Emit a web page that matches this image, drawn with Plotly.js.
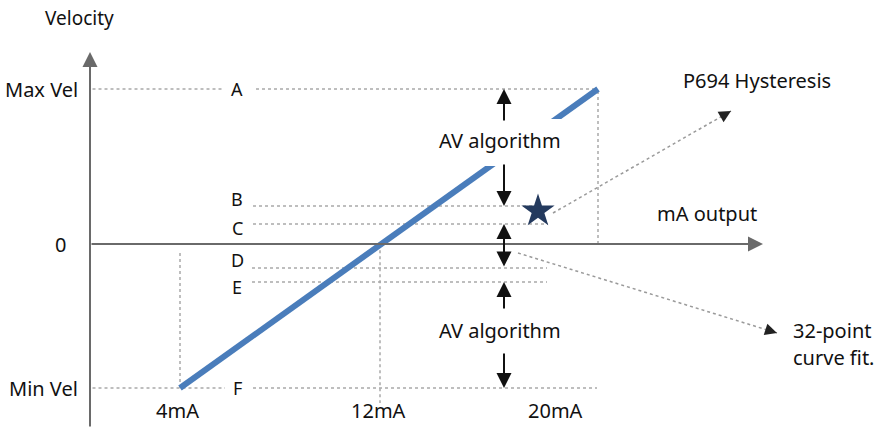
<!DOCTYPE html>
<html>
<head>
<meta charset="utf-8">
<script src="https://cdn.plot.ly/plotly-3.0.1.min.js"></script>
<style>html,body{margin:0;padding:0;background:#fff;}#chart{width:876px;height:432px;}</style>
</head>
<body>
<div id="chart"></div>
<script>
// ---- data (x in mA, y in % of max velocity) ----
const tickValues = [4, 12, 20];
const tickLabels = ['4mA', '12mA', '20mA'];
const levelNames = ['A', 'B', 'C', 'D', 'E', 'F'];
const levelValues = [100, 24.5, 12.9, -15.5, -24.5, -92.9];
const curveX = [4, 20.72];
const curveV = [-92.9, 100];
const hystX = [18.32];
const hystV = [21.3];

const FONT = 'Noto Sans, Open Sans, sans-serif';
const TXT = '#111111';
const GUIDE = '#a9a9a9';
const AXIS = '#6a6a6a';
const FS = 20;

const maxV = levelValues[0], minV = levelValues[5];
const xAxisPos = 0.4;            // where the vertical (velocity) axis sits
const labelX = 6.28;             // column for letters A..F
const avX = 16.96;               // column for the AV-algorithm arrows
const endX = curveX[1];

function hline(y, x0, x1) {
  return {type: 'line', xref: 'x', yref: 'y', x0: x0, x1: x1, y0: y, y1: y,
          line: {color: GUIDE, width: 1.5, dash: 'dot'}, layer: 'below'};
}
function vline(x, y0, y1) {
  return {type: 'line', xref: 'x', yref: 'y', x0: x, x1: x, y0: y0, y1: y1,
          line: {color: GUIDE, width: 1.5, dash: 'dot'}, layer: 'below'};
}

const shapes = [
  hline(maxV, 0.5, 5.68),
  hline(levelValues[0], 7.04, endX),
  hline(levelValues[1], 6.92, 18.2),
  hline(levelValues[2], 6.92, 18.72),
  hline(levelValues[3], 6.88, 18.68),
  hline(levelValues[4], 6.88, 18.68),
  hline(minV, 0.5, 5.8),
  hline(levelValues[5], 6.92, 20.68),
  vline(tickValues[0], -5.8, minV),
  vline(tickValues[1], -4, -102.6),
  vline(endX, 0, maxV),
  // dotted leader lines
  {type: 'line', xref: 'x', yref: 'y', x0: 18.92, y0: 20, x1: 26.04, y1: 85.8,
   line: {color: '#9a9a9a', width: 1.5, dash: 'dot'}},
  {type: 'line', xref: 'x', yref: 'y', x0: 17.52, y0: -5.8, x1: 27.88, y1: -57.4,
   line: {color: '#9a9a9a', width: 1.5, dash: 'dot'}},
  // white mask behind the upper "AV algorithm" label
  {type: 'rect', xref: 'x', yref: 'y', x0: 16.0, x1: 19.4, y0: 50.3, y1: 80.6,
   fillcolor: '#ffffff', line: {width: 0}, layer: 'above'}
];

function arrow(xh, yh, xt, yt, extra) {
  return Object.assign({x: xh, y: yh, ax: xt, ay: yt, xref: 'x', yref: 'y', axref: 'x', ayref: 'y',
    text: '', showarrow: true, arrowhead: 2, arrowsize: 1.5, arrowwidth: 2, arrowcolor: '#111111',
    standoff: 0, startstandoff: 0}, extra || {});
}
function label(text, x, y, opts) {
  return Object.assign({x: x, y: y, xref: 'x', yref: 'y', text: text, showarrow: false,
    font: {family: FONT, size: FS, color: TXT}}, opts || {});
}

const letterShift = [0, 7, -4, 8, -5, 0];
const annotations = [
  // axes with arrowheads
  arrow(xAxisPos, 123.9, xAxisPos, -118.7, {arrowcolor: AXIS, arrowwidth: 2, arrowsize: 1.5}),
  arrow(27.32, 0, xAxisPos, 0, {arrowcolor: AXIS, arrowwidth: 2, arrowsize: 1.5}),
  // AV algorithm arrows
  arrow(avX, levelValues[0], avX, 78.7),
  arrow(avX, levelValues[1], avX, 52.3),
  arrow(avX, levelValues[2], avX, levelValues[3], {arrowside: 'end+start', startarrowhead: 2, startarrowsize: 1.5}),
  arrow(avX, levelValues[4], avX, -42.6),
  arrow(avX, levelValues[5], avX, -69.7),
  // leader arrowheads
  {x: 26.04, y: 85.8, xref: 'x', yref: 'y', ax: -8.7, ay: 5, text: '', showarrow: true,
   arrowhead: 2, arrowsize: 1.5, arrowwidth: 1.6, arrowcolor: '#222222', standoff: 0},
  {x: 27.88, y: -57.4, xref: 'x', yref: 'y', ax: -9.5, ay: -3, text: '', showarrow: true,
   arrowhead: 2, arrowsize: 1.5, arrowwidth: 1.6, arrowcolor: '#222222', standoff: 0},
  // texts
  label('AV algorithm', 16.8, 67.1),
  label('AV algorithm', 16.8, -55.5),
  label('P694 Hysteresis', 27.08, 105.8),
  label('mA output', 25.08, 20),
  label('32-point', 28.44, -55.5, {xanchor: 'left'}),
  label('curve fit.', 28.44, -73.5, {xanchor: 'left'}),
  label('Velocity', -0.04, 145.8, {font: {family: FONT, size: 19, color: TXT}}),
  label('Max Vel', 0, maxV, {xanchor: 'right'}),
  label('0', -0.48, 0, {xanchor: 'right'}),
  label('Min Vel', 0, minV, {xanchor: 'right'})
];
levelNames.forEach((n, i) => annotations.push(label(n, labelX, levelValues[i],
  {yshift: letterShift[i], font: {family: FONT, size: 18, color: TXT}})));
const tickShift = [-3, -2, -25];
tickLabels.forEach((t, i) => annotations.push(label(t, tickValues[i], -107.1, {xshift: tickShift[i]})));

const traces = [
  {x: curveX, y: curveV, type: 'scatter', mode: 'lines',
   line: {color: '#4a7dbb', width: 6}, hoverinfo: 'skip'},
  {x: hystX, y: hystV, type: 'scatter', mode: 'markers',
   marker: {symbol: 'star', size: 25, color: '#243a5e', line: {width: 0}}, hoverinfo: 'skip'}
];

const layout = {
  width: 876, height: 432,
  margin: {l: 0, r: 0, t: 0, b: 0},
  paper_bgcolor: '#ffffff', plot_bgcolor: '#ffffff',
  showlegend: false,
  xaxis: {range: [-3.2, 31.84], visible: false, fixedrange: true},
  yaxis: {range: [-121.29, 157.42], visible: false, fixedrange: true},
  shapes: shapes,
  annotations: annotations,
  font: {family: FONT, color: TXT}
};

Plotly.newPlot('chart', traces, layout, {displayModeBar: false, staticPlot: true});
</script>
</body>
</html>
